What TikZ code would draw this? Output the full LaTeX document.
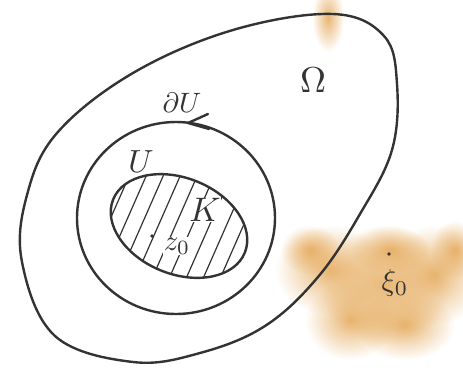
\documentclass[tikz,border=0pt]{standalone}
\usepackage{graphicx}
\usetikzlibrary{calc,fadings}
\tikzfading[name=fuzzy, inner color=transparent!20, outer color=transparent!100]
\begin{document}
\begin{tikzpicture}[x=1pt,y=-1pt,
  ink/.style={draw=inkc,line width=2.4pt,line join=round,line cap=round},
  hatch/.style={draw=inkc,line width=1.2pt},
  lbl/.style={text=inkc,inner sep=1pt},
  stain/.style={fill=stainc,draw=none,path fading=fuzzy}]
\definecolor{inkc}{HTML}{333333}
\definecolor{stainc}{HTML}{E3A450}
\useasboundingbox (0,0) rectangle (463,388);
% paper stains
\foreach \p/\a/\b in {{(330,270)/55/45},{(385,285)/65/60},{(435,275)/50/50},{(350,320)/45/40},{(405,325)/50/35},{(455,250)/25/30},{(310,250)/30/25},{(390,250)/40/25}}
  \fill[stain] \p ellipse [x radius=\a, y radius=\b];
\fill[stain] (328,18) ellipse [x radius=16, y radius=34];
% outer region Omega
\draw[ink] plot[smooth cycle,tension=0.62] coordinates {
  (333,14) (384,36) (397,84) (392,150) (360,214) (318,277) (265,326)
  (200,353) (133,362) (55,336) (22,262) (27,195) (57,133) (133,73) (233,30)};
% middle region U
\coordinate (uc) at (176,218);
\draw[ink] (uc) ellipse [x radius=99, y radius=96];
% arrow on boundary of U
\coordinate (at) at (188,123);
\draw[ink] ($(at)+(20,-9)$) -- (at) -- ($(at)+(21,6)$);
% compact K
\coordinate (kc) at (179,226);
\begin{scope}
  \clip[rotate around={-22:(kc)}] (kc) ellipse [x radius=71, y radius=48];
  \foreach \x in {62,79,...,280}
    \draw[hatch] (\x,290) -- ++(55,-125);
\end{scope}
\draw[ink,rotate around={-22:(kc)}] (kc) ellipse [x radius=71, y radius=48];
% labels
\node[lbl] (om) at (313,80) {\scalebox{3.6}{$\Omega$}};
\node[lbl] (du) at (182,103) {\scalebox{2.8}{$\partial U$}};
\node[lbl] (u) at (141,162) {\scalebox{3.2}{$U$}};
\node[lbl,fill=white,inner sep=0pt] (k) at (205,210) {\scalebox{3.4}{$K$}};
\fill[inkc] (152,236) circle (1.8pt);
\node[lbl,fill=white,inner sep=0.5pt] (z) at (177,246) {\scalebox{2.9}{$z_0$}};
\fill[inkc] (389,254) circle (1.8pt);
\node[lbl] (xi) at (395,283) {\scalebox{3}{$\xi_0$}};
\end{tikzpicture}
\end{document}
